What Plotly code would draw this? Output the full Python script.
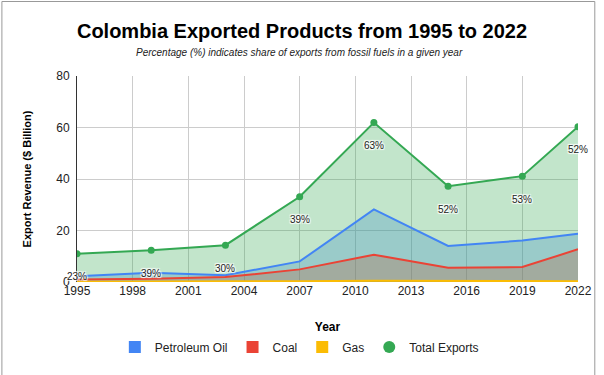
import plotly.graph_objects as go

years = [1995, 1999, 2003, 2007, 2011, 2015, 2019, 2022]
petroleum = [2.2, 3.6, 2.6, 8.0, 28.2, 14.0, 16.1, 18.7]
coal = [1.0, 1.3, 1.9, 4.9, 10.6, 5.5, 5.8, 12.7]
gas = [0.1, 0.1, 0.2, 0.3, 0.5, 0.4, 0.3, 0.3]
total = [11.0, 12.3, 14.3, 33.1, 61.9, 37.2, 41.1, 60.3]
fossil_share = ["23%", "39%", "30%", "39%", "63%", "52%", "53%", "52%"]
x_ticks = [1995, 1998, 2001, 2004, 2007, 2010, 2013, 2016, 2019, 2022]
y_ticks = [0, 20, 40, 60, 80]

FONT = "Liberation Sans, Arial, sans-serif"
W, H = 604, 375
L, R, T, B = 77, 20, 76, 93
PW, PH = W - L - R, H - T - B

series = [
    ("Petroleum Oil", petroleum, "#4285f4", "rgba(66,133,244,0.3)"),
    ("Coal", coal, "#ea4335", "rgba(234,67,53,0.3)"),
    ("Gas", gas, "#fbbc04", "rgba(251,188,4,0.3)"),
    ("Total Exports", total, "#34a853", "rgba(52,168,83,0.3)"),
]

fig = go.Figure()
# areas first
for name, vals, col, fillc in series:
    fig.add_trace(go.Scatter(x=years, y=vals, mode="lines", name=name,
                             line=dict(color="rgba(0,0,0,0)", width=0), fill="tozeroy",
                             fillcolor=fillc, showlegend=False, hoverinfo="skip"))
# lines on top
for name, vals, col, fillc in series:
    is_total = name == "Total Exports"
    fig.add_trace(go.Scatter(x=years, y=vals, mode="lines+markers" if is_total else "lines",
                             name=name, line=dict(color=col, width=2),
                             marker=dict(size=7, color=col), showlegend=False))

# legend entries
for name, vals, col, fillc in series:
    fig.add_trace(go.Scatter(x=[None], y=[None], mode="markers", name=name,
                             marker=dict(symbol="circle" if name == "Total Exports" else "square",
                                         size=12, color=col)))

for xv, yv, lab in zip(years, total, fossil_share):
    fig.add_annotation(x=xv, y=yv, text=lab, showarrow=False, yshift=-23,
                       font=dict(size=10, color="#222", family=FONT,
                                 shadow="1px 1px 1px white, -1px -1px 1px white, 1px -1px 1px white, -1px 1px 1px white"))

fig.add_annotation(text="Percentage (%) indicates share of exports from fossil fuels in a given year",
                   xref="paper", yref="paper", x=(302 - L) / PW, y=(H - B - 52.5) / PH,
                   showarrow=False, yanchor="middle",
                   font=dict(size=10, family=FONT, color="#222", style="italic"))

fig.update_layout(
    width=W, height=H,
    margin=dict(l=L, r=R, t=T, b=B),
    paper_bgcolor="white", plot_bgcolor="white",
    font=dict(family=FONT, size=12, color="#222"),
    title=dict(text="<b>Colombia Exported Products from 1995 to 2022</b>",
               x=0.5, xanchor="center", y=1 - 31 / H, yanchor="middle",
               font=dict(size=20, color="#000", family=FONT)),
    xaxis=dict(range=[1995, 2022], tickvals=x_ticks, showgrid=True,
               gridcolor="#cccccc", gridwidth=1, zeroline=False,
               showline=False, ticks="", tickfont=dict(size=12, color="#222"),
               title=dict(text="<b>Year</b>", font=dict(size=12, color="#000"), standoff=25)),
    yaxis=dict(range=[0, 80], tickvals=y_ticks, showgrid=True, gridcolor="#cccccc",
               zeroline=False, showline=True, linecolor="#333", linewidth=1, ticks="",
               ticklabelstandoff=4,
               tickfont=dict(size=12, color="#222"),
               title=dict(text="<b>Export Revenue ($ Billion)</b>",
                          font=dict(size=11, color="#000"), standoff=22)),
    legend=dict(orientation="h", x=(302 - L) / PW, xanchor="center",
                y=(H - B - 347) / PH, yanchor="middle",
                font=dict(size=12, color="#222"), itemwidth=30),
)
fig.add_shape(type="line", xref="paper", yref="y", x0=0, x1=1, y0=0, y1=0,
              line=dict(color="#333", width=1), layer="below")
fig.add_shape(type="rect", xref="paper", yref="paper",
              x0=(1 - L) / PW, x1=(601 - L) / PW,
              y0=(H - B - 380) / PH, y1=(H - B - 1.5) / PH,
              line=dict(color="#999", width=1), layer="below")

fig.write_html("out.html", config={"displayModeBar": False},
               post_script="document.body.style.margin='0';")
